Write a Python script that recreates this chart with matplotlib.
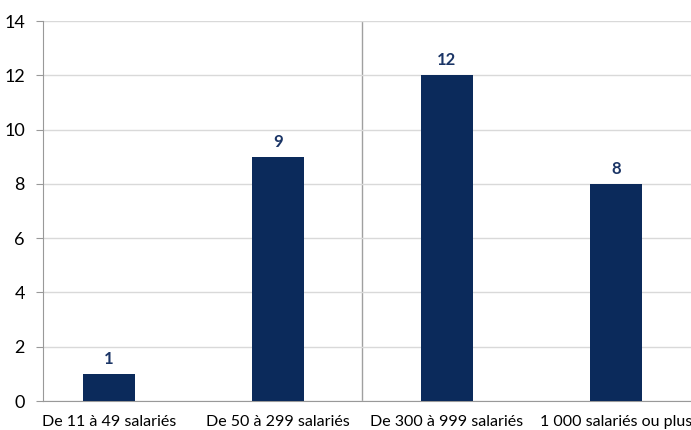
import matplotlib
matplotlib.use("Agg")
import matplotlib.pyplot as plt

# Chart data
categories = ["De 11 à 49 salariés", "De 50 à 299 salariés",
              "De 300 à 999 salariés", "1 000 salariés ou plus"]
values = [1, 9, 12, 8]
y_ticks = [0, 2, 4, 6, 8, 10, 12, 14]

plt.rcParams['font.family'] = ['Lato', 'DejaVu Sans']

bar_color = '#0b2a5b'
label_color = '#1b3566'

fig = plt.figure(figsize=(6.91, 4.30), dpi=100)
ax = fig.add_axes([43 / 691, 29 / 430, 648 / 691, 380 / 430])

x = list(range(len(categories)))
bars = ax.bar(x, values, width=0.31, color=bar_color, zorder=3)

for rect, v in zip(bars, values):
    ax.annotate(str(v), (rect.get_x() + rect.get_width() / 2, v),
                xytext=(0, 5), textcoords='offset points',
                ha='center', va='bottom', fontsize=12, fontweight='bold',
                color=label_color)

ax.set_xlim(-0.39, 3.444)
ax.set_ylim(0, 14)
ax.set_yticks(y_ticks)
ax.set_xticks(x)
ax.set_xticklabels(categories, fontsize=11.5)
ax.tick_params(axis='y', labelsize=13, length=5, color='#999999', pad=8)
ax.tick_params(axis='x', length=0, pad=10)

ax.grid(axis='y', color='#d9d9d9', linewidth=1, zorder=0)
ax.axvline(1.5, color='#a0a0a0', linewidth=1, zorder=1)

for side in ['top', 'right']:
    ax.spines[side].set_visible(False)
ax.spines['left'].set_color('#999999')
ax.spines['bottom'].set_color('#999999')

fig.savefig("out.png", dpi=100)
